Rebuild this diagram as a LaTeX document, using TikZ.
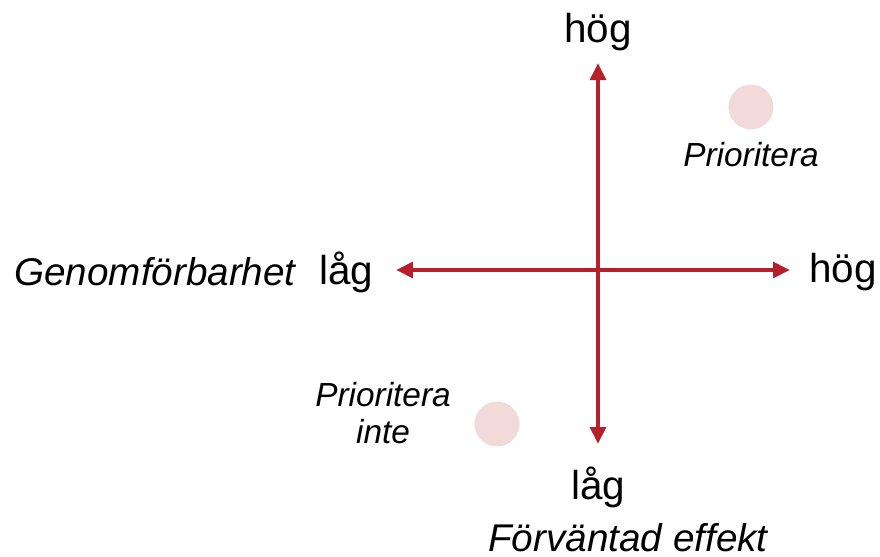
\documentclass[tikz,border=0pt]{standalone}
\usepackage{fontspec}
\setmainfont{Liberation Sans}
\usetikzlibrary{arrows.meta}
\definecolor{axisred}{HTML}{B5202A}
\definecolor{dotpink}{HTML}{F2DADA}
\tikzset{
	axis/.style={axisred, line width=0.085cm, {Triangle[length=0.34cm,width=0.31cm]}-{Triangle[length=0.34cm,width=0.31cm]}},
	endlabel/.style={font=\fontsize{23}{27}\selectfont, inner sep=0pt},
	axistitle/.style={font=\fontsize{22}{26}\selectfont\itshape, inner sep=0pt},
	quadlabel/.style={font=\fontsize{19}{23}\selectfont\itshape, inner sep=0pt, align=center},
	dot/.style={circle, fill=dotpink, minimum size=0.9cm, inner sep=0pt}
}
\begin{document}
\begin{tikzpicture}[x=0.02cm, y=-0.02cm]
		\useasboundingbox (0,0) rectangle (880,556);
		% axes
		\coordinate (top) at (598,63);
		\coordinate (bottom) at (598,444);
		\coordinate (left) at (396,270);
		\coordinate (right) at (790,270);
		\draw[axis] (bottom) -- (top);
		\draw[axis] (left) -- (right);
		% axis ends
		\node[endlabel] (hogtop) at (598,32) {hög};
		\node[endlabel] (hogright) at (843,272) {hög};
		\node[endlabel] (lagleft) at (346,272) {låg};
		\node[endlabel] (lagbottom) at (598,487) {låg};
		\node[axistitle] (genom) at (155,272) {Genomförbarhet};
		\node[axistitle] (effekt) at (628,538) {Förväntad effekt};
		% quadrants
		\node[dot] (dothigh) at (751,107) {};
		\node[quadlabel] (prio) at (751,155) {Prioritera};
		\node[dot] (dotlow) at (497,424) {};
		\node[quadlabel] (prionot) at (383,413) {Prioritera\\[-2pt]inte};
		\end{tikzpicture}
\end{document}
